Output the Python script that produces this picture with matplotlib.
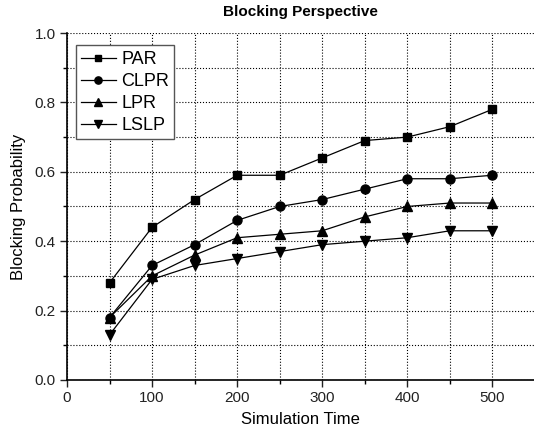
import matplotlib
matplotlib.use("Agg")
import matplotlib.pyplot as plt
from matplotlib.ticker import MultipleLocator

plt.rcParams['font.family'] = ['Liberation Sans', 'DejaVu Sans']

times = [50, 100, 150, 200, 250, 300, 350, 400, 450, 500]
par = [0.28, 0.44, 0.52, 0.59, 0.59, 0.64, 0.69, 0.70, 0.73, 0.78]
clpr = [0.18, 0.33, 0.39, 0.46, 0.50, 0.52, 0.55, 0.58, 0.58, 0.59]
lpr = [0.18, 0.30, 0.36, 0.41, 0.42, 0.43, 0.47, 0.50, 0.51, 0.51]
lslp = [0.13, 0.29, 0.33, 0.35, 0.37, 0.39, 0.40, 0.41, 0.43, 0.43]

fig = plt.figure(figsize=(5.34, 4.32), dpi=100)
ax = fig.add_axes([0.1255, 0.1204, 0.8745, 0.8032])

ax.plot(times, par, 'k-s', lw=0.9, ms=6, label='PAR')
ax.plot(times, clpr, 'k-o', lw=0.9, ms=6.5, label='CLPR')
ax.plot(times, lpr, 'k-^', lw=0.9, ms=7, label='LPR')
ax.plot(times, lslp, 'k-v', lw=0.9, ms=7, label='LSLP')

ax.set_xlim(0, 549)
ax.set_ylim(0, 1.0)
ax.xaxis.set_major_locator(MultipleLocator(100))
ax.xaxis.set_minor_locator(MultipleLocator(50))
ax.yaxis.set_major_locator(MultipleLocator(0.2))
ax.yaxis.set_minor_locator(MultipleLocator(0.1))
ax.yaxis.set_major_formatter(plt.FormatStrFormatter('%.1f'))
ax.grid(True, which='both', color='k', ls=':', lw=0.8)
ax.set_axisbelow(True)
ax.tick_params(which='major', direction='out', length=5, width=1, pad=3,
               labelsize=11, colors='#222222')
ax.tick_params(which='minor', direction='out', length=3, width=1)
ax.spines['top'].set_visible(False)
ax.spines['right'].set_visible(False)
ax.spines['left'].set_linewidth(1.2)
ax.spines['bottom'].set_linewidth(1.2)

ax.set_xlabel('Simulation Time', fontsize=12, labelpad=5)
ax.set_ylabel('Blocking Probability', fontsize=12, labelpad=6)
ax.set_title('Blocking Perspective', fontsize=11, fontweight='bold', pad=12)

leg = ax.legend(loc='upper left', bbox_to_anchor=(0.019, 0.964), fontsize=13,
                fancybox=False, framealpha=1, edgecolor='#555555',
                handlelength=1.9, handletextpad=0.3, labelspacing=0.28,
                borderpad=0.3, borderaxespad=0, markerscale=0.8)
leg.get_frame().set_linewidth(1.0)

fig.savefig('out.png', dpi=100)
